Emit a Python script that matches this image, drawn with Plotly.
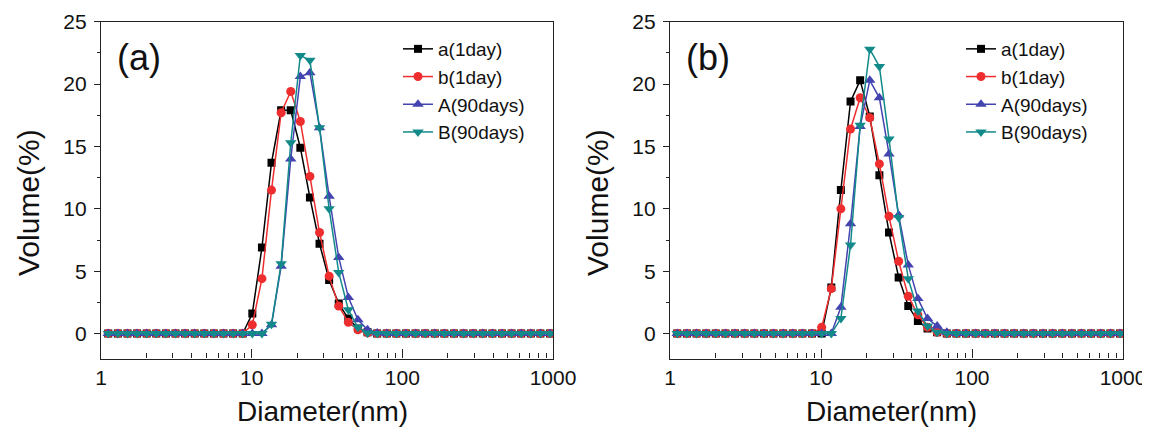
import plotly.graph_objects as go

# Size classes (nm)
DIAMETER = [1.117, 1.294, 1.499, 1.736, 2.010, 2.328, 2.696, 3.122, 3.615, 4.187,
            4.849, 5.615, 6.503, 7.531, 8.721, 10.10, 11.70, 13.54, 15.69, 18.17,
            21.04, 24.36, 28.21, 32.67, 37.84, 43.82, 50.75, 58.77, 68.06, 78.82,
            91.28, 105.7, 122.4, 141.8, 164.2, 190.1, 220.2, 255.0, 295.3, 342.0,
            396.1, 458.7, 531.2, 615.1, 712.4, 825.0, 955.4]

SERIES_NAMES = ["a(1day)", "b(1day)", "A(90days)", "B(90days)"]

# Panel (a)
A_a1 = [0, 0, 0, 0, 0, 0, 0, 0, 0, 0, 0, 0, 0, 0, 0,
        1.6, 6.9, 13.7, 17.9, 17.9, 14.9, 10.9, 7.2, 4.3, 2.4, 1.2, 0.4, 0.1,
        0, 0, 0, 0, 0, 0, 0, 0, 0, 0, 0, 0, 0, 0, 0, 0, 0, 0, 0]
A_b1 = [0, 0, 0, 0, 0, 0, 0, 0, 0, 0, 0, 0, 0, 0, 0,
        0.7, 4.4, 11.5, 17.7, 19.4, 17.0, 12.6, 8.1, 4.6, 2.2, 0.9, 0.3, 0.05,
        0, 0, 0, 0, 0, 0, 0, 0, 0, 0, 0, 0, 0, 0, 0, 0, 0, 0, 0]
A_A90 = [0, 0, 0, 0, 0, 0, 0, 0, 0, 0, 0, 0, 0, 0, 0, 0, 0,
         0.7, 5.4, 14.0, 20.6, 20.9, 16.5, 11.0, 6.1, 2.9, 1.1, 0.3, 0.05,
         0, 0, 0, 0, 0, 0, 0, 0, 0, 0, 0, 0, 0, 0, 0, 0, 0, 0]
A_B90 = [0, 0, 0, 0, 0, 0, 0, 0, 0, 0, 0, 0, 0, 0, 0, 0, 0,
         0.75, 5.6, 15.3, 22.3, 21.9, 16.5, 10.0, 4.9, 1.9, 0.5, 0.05,
         0, 0, 0, 0, 0, 0, 0, 0, 0, 0, 0, 0, 0, 0, 0, 0, 0, 0, 0]

# Panel (b)
B_a1 = [0, 0, 0, 0, 0, 0, 0, 0, 0, 0, 0, 0, 0, 0, 0, 0,
        3.7, 11.5, 18.6, 20.3, 17.4, 12.7, 8.1, 4.5, 2.2, 1.0, 0.4, 0.1,
        0, 0, 0, 0, 0, 0, 0, 0, 0, 0, 0, 0, 0, 0, 0, 0, 0, 0, 0]
B_b1 = [0, 0, 0, 0, 0, 0, 0, 0, 0, 0, 0, 0, 0, 0, 0,
        0.5, 3.6, 10.0, 16.4, 18.9, 17.3, 13.6, 9.4, 5.8, 3.0, 1.5, 0.5, 0.1,
        0, 0, 0, 0, 0, 0, 0, 0, 0, 0, 0, 0, 0, 0, 0, 0, 0, 0, 0]
B_A90 = [0, 0, 0, 0, 0, 0, 0, 0, 0, 0, 0, 0, 0, 0, 0, 0, 0,
         2.1, 8.8, 16.6, 20.3, 18.9, 14.4, 9.5, 5.5, 2.8, 1.2, 0.6, 0.1,
         0, 0, 0, 0, 0, 0, 0, 0, 0, 0, 0, 0, 0, 0, 0, 0, 0, 0]
B_B90 = [0, 0, 0, 0, 0, 0, 0, 0, 0, 0, 0, 0, 0, 0, 0, 0, 0,
         1.2, 7.1, 16.7, 22.8, 21.4, 15.6, 9.3, 4.4, 1.8, 0.6, 0.1,
         0, 0, 0, 0, 0, 0, 0, 0, 0, 0, 0, 0, 0, 0, 0, 0, 0, 0, 0]

Y_TICKS = [0, 5, 10, 15, 20, 25]
X_TICKS = [1, 10, 100, 1000]
X_TICK_TEXT = ["1", "10", "100", "1000"]

COLORS = ["#000000", "#ee2e2e", "#4444b0", "#128a8a"]
SYMBOLS = ["square", "circle", "triangle-up", "triangle-down"]
SIZES = [8, 9, 10, 10]
FONT = "Arial, Liberation Sans, sans-serif"

# page body margin offsets the figure by 8px; lay out in window pixels
OFF = 8
W, H = 1150 - OFF, 430 - OFF


def px(x):
    return (x - OFF) / W


def py(y):
    return 1 - (y - OFF) / H


PANELS = [(101, 553), (670, 1123)]
TOP, BOTTOM = 21.7, 358.5

fig = go.Figure()

panel_data = [[A_a1, A_b1, A_A90, A_B90], [B_a1, B_b1, B_A90, B_B90]]
for p, series in enumerate(panel_data):
    xa = "x" if p == 0 else "x2"
    ya = "y" if p == 0 else "y2"
    leg = "legend" if p == 0 else "legend2"
    for i, vals in enumerate(series):
        fig.add_trace(go.Scatter(
            x=DIAMETER, y=vals, name=SERIES_NAMES[i], mode="lines+markers",
            xaxis=xa, yaxis=ya, legend=leg,
            line=dict(color=COLORS[i], width=1.5),
            marker=dict(symbol=SYMBOLS[i], size=SIZES[i],
                        color=COLORS[i], line=dict(width=0)),
        ))

ydom = [py(BOTTOM), py(TOP)]
axis_common_x = dict(
    type="log", range=[0, 3], tickvals=X_TICKS, ticktext=X_TICK_TEXT,
    ticks="inside", ticklen=9, tickwidth=1.2, tickcolor="#222",
    minor=dict(dtick="D1", ticks="inside", ticklen=5, tickwidth=1, tickcolor="#222", showgrid=False),
    showline=True, linecolor="#222", linewidth=1.3, mirror=True,
    showgrid=False, zeroline=False, automargin=False,
    tickfont=dict(family=FONT, size=21, color="#111"),
    ticklabelstandoff=0,
)
axis_common_y = dict(
    range=[-2, 25], tickvals=Y_TICKS,
    ticks="outside", ticklen=6, tickwidth=1.2, tickcolor="#222",
    minor=dict(dtick=2.5, ticks="outside", ticklen=3, tickwidth=1, tickcolor="#222", showgrid=False),
    showline=True, linecolor="#222", linewidth=1.3, mirror=True,
    showgrid=False, zeroline=False, automargin=False,
    tickfont=dict(family=FONT, size=21, color="#111"),
    ticklabelstandoff=3,
)

legend_style = dict(xanchor="left", yanchor="top", bgcolor="rgba(0,0,0,0)",
                    font=dict(family=FONT, size=19, color="#111"),
                    tracegroupgap=0, itemwidth=30)

fig.update_layout(
    width=W, height=H,
    margin=dict(l=0, r=0, t=0, b=0, autoexpand=False),
    paper_bgcolor="white", plot_bgcolor="white",
    showlegend=True,
    xaxis=dict(domain=[px(PANELS[0][0]), px(PANELS[0][1])], anchor="y", **axis_common_x),
    yaxis=dict(domain=ydom, anchor="x", **axis_common_y),
    xaxis2=dict(domain=[px(PANELS[1][0]), px(PANELS[1][1])], anchor="y2", **axis_common_x),
    yaxis2=dict(domain=ydom, anchor="x2", **axis_common_y),
    legend=dict(x=px(398), y=py(30), **legend_style),
    legend2=dict(x=px(961), y=py(30), **legend_style),
)

annotations = []
for p, lab in enumerate(["(a)", "(b)"]):
    x0, x1 = PANELS[p]
    annotations.append(dict(text=lab, x=px(x0 + 14), y=py(57), xref="paper", yref="paper",
                            xanchor="left", yanchor="middle", showarrow=False,
                            font=dict(family=FONT, size=36, color="#111")))
    annotations.append(dict(text="Diameter(nm)", x=px((x0 + x1) / 2 - 5), y=py(411),
                            xref="paper", yref="paper", xanchor="center", yanchor="middle",
                            showarrow=False, font=dict(family=FONT, size=28, color="#111")))
    annotations.append(dict(text="Volume(%)", x=px(x0 - 73), y=py(203),
                            xref="paper", yref="paper", xanchor="center", yanchor="middle",
                            textangle=-90, showarrow=False,
                            font=dict(family=FONT, size=30, color="#111")))
fig.update_layout(annotations=annotations)

fig.write_html("out.html")
